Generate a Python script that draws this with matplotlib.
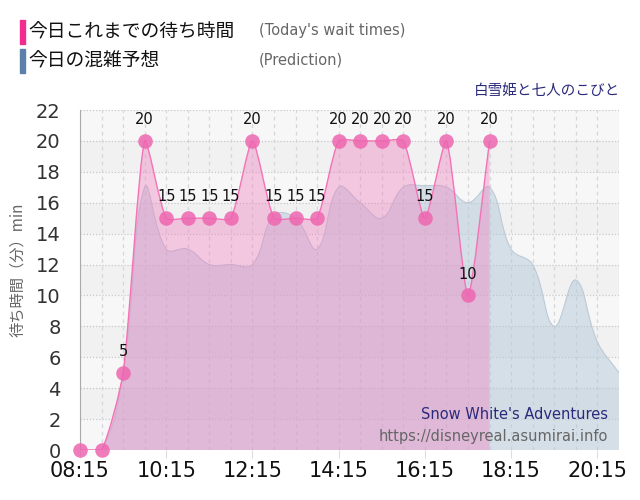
import matplotlib.pyplot as plt
import numpy as np
from matplotlib.path import Path
from matplotlib.patches import PathPatch, Rectangle

plt.rcParams['font.family'] = ['DejaVu Sans', 'Noto Sans CJK JP']

# actual waits, every 30 min
actual_times = ["08:15", "08:45", "09:15", "09:45", "10:15", "10:45", "11:15", "11:45",
                "12:15", "12:45", "13:15", "13:45", "14:15", "14:45", "15:15", "15:45",
                "16:15", "16:45", "17:15", "17:45"]
actual_wait = [0, 0, 5, 20, 15, 15, 15, 15, 20, 15, 15, 15, 20, 20, 20, 20, 15, 20, 10, 20]

# prediction
pred_times = ["08:15", "08:45", "09:15", "09:45", "10:15", "10:45", "11:15", "11:45",
              "12:15", "12:45", "13:15", "13:45", "14:15", "14:45", "15:15", "15:45",
              "16:15", "16:45", "17:15", "17:45", "18:15", "18:45", "19:15", "19:45",
              "20:15", "20:45"]
pred_wait = [0, 0, 5, 17, 13, 13, 12, 12, 12, 15.2, 15, 13, 17, 16, 15, 17,
             17.1, 17, 16, 17, 13, 12, 8, 11, 7, 5]

tick_labels = ["08:15", "10:15", "12:15", "14:15", "16:15", "18:15", "20:15"]

XMIN, XMAX, YMIN, YMAX = 8.25, 20.75, 0, 22


def to_h(s):
    h, m = s.split(":")
    return int(h) + int(m) / 60.0


def spline_path(xs, ys, tension, sx, sy):
    # chart.js style bezier, computed in pixel units
    px = np.array(xs) * sx
    py = np.array(ys) * sy
    n = len(px)
    cps = []
    for i in range(n):
        p = (px[max(i - 1, 0)], py[max(i - 1, 0)])
        c = (px[i], py[i])
        nx = (px[min(i + 1, n - 1)], py[min(i + 1, n - 1)])
        d01 = np.hypot(c[0] - p[0], c[1] - p[1])
        d12 = np.hypot(nx[0] - c[0], nx[1] - c[1])
        tot = d01 + d12 if d01 + d12 > 0 else 1
        fa = tension * d01 / tot
        fb = tension * d12 / tot
        prev_cp = [c[0] - fa * (nx[0] - p[0]), c[1] - fa * (nx[1] - p[1])]
        next_cp = [c[0] + fb * (nx[0] - p[0]), c[1] + fb * (nx[1] - p[1])]
        for cp in (prev_cp, next_cp):
            cp[1] = min(max(cp[1], YMIN * sy), YMAX * sy)
        cps.append((prev_cp, next_cp))
    verts = [(px[0] / sx, py[0] / sy)]
    codes = [Path.MOVETO]
    for i in range(n - 1):
        a = cps[i][1]
        b = cps[i + 1][0]
        verts += [(a[0] / sx, a[1] / sy), (b[0] / sx, b[1] / sy), (px[i + 1] / sx, py[i + 1] / sy)]
        codes += [Path.CURVE4] * 3
    return verts, codes


def fill_path(verts, codes):
    v = verts + [(verts[-1][0], 0), (verts[0][0], 0), (verts[0][0], 0)]
    c = codes + [Path.LINETO, Path.LINETO, Path.CLOSEPOLY]
    return Path(v, c)


ax_x = [to_h(t) for t in actual_times]
px_x = [to_h(t) for t in pred_times]

fig = plt.figure(figsize=(6.4, 5), dpi=100)
ax = fig.add_axes([0.125, 0.1, 0.842, 0.68])
ax.set_xlim(XMIN, XMAX)
ax.set_ylim(YMIN, YMAX)
ax.set_facecolor('#f4f4f4')

for y0 in range(0, 22, 2):
    ax.axhspan(y0, y0 + 2, color='#f7f7f7' if (y0 // 2) % 2 == 0 else '#f1f1f1', lw=0, zorder=0)
for y0 in range(2, 23, 2):
    ax.axhline(y0, color='#c8c8c8', lw=0.9, ls=(0, (1, 1.5)), zorder=0.5)
for xv in np.arange(XMIN, XMAX + 0.01, 0.5):
    ax.axvline(xv, color='#d6d6dc', lw=0.9, ls=(0, (3, 3)), zorder=0.5)

sx = 540 / (XMAX - XMIN)
sy = 340 / (YMAX - YMIN)

pv, pc = spline_path(px_x, pred_wait, 0.4, sx, sy)
ax.add_patch(PathPatch(fill_path(pv, pc), facecolor=(0.71, 0.79, 0.85, 0.5), edgecolor='none', zorder=1))
ax.add_patch(PathPatch(Path(pv, pc), facecolor='none', edgecolor='#bccad6', lw=0.8, zorder=1.1))

av, ac = spline_path(ax_x, actual_wait, 0.2, sx, sy)
ax.add_patch(PathPatch(fill_path(av, ac), facecolor=(0.94, 0.5, 0.75, 0.4), edgecolor='none', zorder=2))
ax.add_patch(PathPatch(Path(av, ac), facecolor='none', edgecolor='#f472b6', lw=1.0, zorder=3))
ax.plot(ax_x, actual_wait, 'o', ms=10.5, color='#ee66b0', alpha=0.85, mec='none', zorder=4, clip_on=False)
for xv, yv in zip(ax_x[2:], actual_wait[2:]):
    ax.annotate(str(yv), (xv, yv), xytext=(0, 10), textcoords='offset points',
                ha='center', va='bottom', fontsize=10.5, color='#111111', zorder=5)

ax.set_xticks([to_h(t) for t in tick_labels])
ax.set_xticklabels(tick_labels, fontsize=15, color='#111111')
ax.set_yticks(range(0, 23, 2))
ax.tick_params(axis='y', labelsize=14, labelcolor='#333333', length=0, pad=14)
ax.tick_params(axis='x', length=6, color='#dddddd', pad=2)
for s in ['top', 'right', 'bottom']:
    ax.spines[s].set_visible(False)
ax.spines['left'].set_color('#aaaaaa')

fig.text(0.028, 0.46, "待ち時間（分）min", rotation=90, ha='center', va='center',
         fontsize=11, color='#666666', family=['Noto Sans CJK JP', 'DejaVu Sans'])

# legend
fig.add_artist(Rectangle((20 / 640, 1 - 44 / 500), 5 / 640, 24 / 500, color='#f02d8f', transform=fig.transFigure))
fig.add_artist(Rectangle((20 / 640, 1 - 73 / 500), 5 / 640, 24 / 500, color='#5b81aa', transform=fig.transFigure))
fig.text(28 / 640, 1 - 32 / 500, "今日これまでの待ち時間", fontsize=13.5, va='center', color='#111111',
         family=['Noto Sans CJK JP', 'DejaVu Sans'])
fig.text(28 / 640, 1 - 61 / 500, "今日の混雑予想", fontsize=13.5, va='center', color='#111111',
         family=['Noto Sans CJK JP', 'DejaVu Sans'])
fig.text(259 / 640, 1 - 31 / 500, "(Today's wait times)", fontsize=10.5, va='center', color='#666666')
fig.text(259 / 640, 1 - 60 / 500, "(Prediction)", fontsize=10.5, va='center', color='#666666')
fig.text(620 / 640, 1 - 91 / 500, "白雪姫と七人のこびと", fontsize=10.5, ha='right', va='center',
         color='#2a2a7a', family=['Noto Sans CJK JP', 'DejaVu Sans'])

ax.text(0.98, 0.105, "Snow White's Adventures", transform=ax.transAxes, ha='right', va='center',
        fontsize=10.5, color='#2a2a7a', zorder=6)
ax.text(0.98, 0.04, "https://disneyreal.asumirai.info", transform=ax.transAxes, ha='right', va='center',
        fontsize=10.5, color='#666666', zorder=6)

fig.savefig("out.png", dpi=100)
